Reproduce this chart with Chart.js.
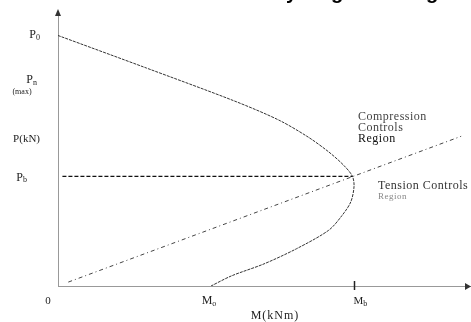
<!DOCTYPE html>
<html>
<head>
<meta charset="utf-8">
<script src="https://cdn.jsdelivr.net/npm/chart.js@4.4.1/dist/chart.umd.min.js"></script>
<style>
  html, body { margin: 0; padding: 0; background: #fff; }
  #wrap { width: 471px; height: 322px; }
</style>
</head>
<body>
<div id="wrap"><canvas id="chart" width="471" height="322"></canvas></div>
<script>
// --- data (M in kNm, P in kN) ---
const axisMaxM = 140;
const axisMaxP = 1400;

// interaction curve, from P0 down through the balanced point to Mo
const curveM = [0, 30, 60, 75, 85, 92, 97, 100, 100.6, 99.5, 96.5, 92, 81, 70, 59, 52];
const curveP = [1280, 1114, 945, 848, 761, 685, 618, 562, 510, 430, 360, 285, 190, 113, 52, 0];

// horizontal dashed line at Pb
const pbLineM = [1.5, 100];
const pbLineP = [560, 560];

// radial line from origin through the balanced point
const radialM = [3.5, 137];
const radialP = [20, 765];

// key values for labels
const P0 = 1280, PnMax = 1024, PaxisTitle = 750, Pb = 560;
const Mo = 52, Mb = 100;

const toPts = (xs, ys) => xs.map((x, i) => ({ x: x, y: ys[i] }));

const SERIF = '"Liberation Serif", "DejaVu Serif", serif';

// text with a subscript
function subText(ctx, main, sub, x, y, size, align) {
  ctx.font = size + 'px ' + SERIF;
  const w1 = ctx.measureText(main).width;
  ctx.font = Math.round(size * 0.7) + 'px ' + SERIF;
  const w2 = ctx.measureText(sub).width;
  let left = x;
  if (align === 'center') left = x - (w1 + w2) / 2;
  if (align === 'right') left = x - (w1 + w2);
  ctx.textAlign = 'left';
  ctx.textBaseline = 'middle';
  ctx.font = size + 'px ' + SERIF;
  ctx.fillText(main, left, y);
  ctx.font = Math.round(size * 0.7) + 'px ' + SERIF;
  ctx.fillText(sub, left + w1, y + size * 0.25);
}

const annotations = {
  id: 'annotations',
  afterDraw(chart) {
    const ctx = chart.ctx;
    const xs = chart.scales.x, ys = chart.scales.y;
    const ca = chart.chartArea;
    ctx.save();

    // axis arrows
    ctx.fillStyle = '#333';
    ctx.beginPath();
    ctx.moveTo(ca.left - 3, ca.top + 4);
    ctx.lineTo(ca.left, ca.top - 3);
    ctx.lineTo(ca.left + 3, ca.top + 4);
    ctx.closePath();
    ctx.fill();
    ctx.beginPath();
    ctx.moveTo(ca.right - 5, ca.bottom - 3);
    ctx.lineTo(ca.right + 1, ca.bottom + 0.5);
    ctx.lineTo(ca.right - 5, ca.bottom + 4);
    ctx.closePath();
    ctx.fill();

    // tick at Mb
    const xb = Math.round(xs.getPixelForValue(Mb)) + 2.5;
    ctx.strokeStyle = '#222';
    ctx.lineWidth = 1.5;
    ctx.beginPath();
    ctx.moveTo(xb, ca.bottom - 5);
    ctx.lineTo(xb, ca.bottom + 4);
    ctx.stroke();

    // y labels
    ctx.fillStyle = '#222';
    subText(ctx, 'P', '0', 40, ys.getPixelForValue(P0) - 1, 12, 'right');
    subText(ctx, 'P', 'n', 37, ys.getPixelForValue(PnMax) - 6, 12, 'right');
    ctx.font = '8px ' + SERIF;
    ctx.textAlign = 'center';
    ctx.fillText('(max)', 22, ys.getPixelForValue(PnMax) + 6);
    ctx.font = '11px ' + SERIF;
    ctx.textAlign = 'right';
    ctx.textBaseline = 'middle';
    ctx.fillText('P(kN)', 40, ys.getPixelForValue(PaxisTitle));
    subText(ctx, 'P', 'b', 27, ys.getPixelForValue(Pb) + 1, 12, 'right');

    // x labels
    const labY = ca.bottom + 15;
    ctx.font = '11px ' + SERIF;
    ctx.textAlign = 'center';
    ctx.fillText('0', ca.left - 10, labY);
    subText(ctx, 'M', 'o', xs.getPixelForValue(Mo) - 2, labY, 12, 'center');
    subText(ctx, 'M', 'b', xs.getPixelForValue(Mb) + 8, labY, 11, 'center');
    ctx.font = '12px ' + SERIF;
    ctx.letterSpacing = '1px';
    ctx.textAlign = 'center';
    ctx.fillText('M(kNm)', 275, ca.bottom + 30);

    // region notes
    ctx.textAlign = 'left';
    ctx.letterSpacing = '0.5px';
    ctx.font = '12px ' + SERIF;
    ctx.fillStyle = '#444';
    ctx.fillText('Compression', 358, 117);
    ctx.fillText('Controls', 358, 128);
    ctx.fillStyle = '#111';
    ctx.fillText('Region', 358, 139);
    ctx.fillStyle = '#333';
    ctx.fillText('Tension Controls', 378, 186);
    ctx.fillStyle = '#888';
    ctx.font = '9px ' + SERIF;
    ctx.fillText('Region', 378, 197);
    ctx.letterSpacing = '0px';

    // cut-off caption descenders along the top edge
    ctx.fillStyle = '#000';
    ctx.font = 'bold 20px "Liberation Sans", sans-serif';
    ctx.textBaseline = 'alphabetic';
    ctx.fillText('y', 286, -1);
    ctx.fillText('g', 331, -1);
    ctx.fillText('g', 426, -1);

    ctx.restore();
  }
};

new Chart(document.getElementById('chart'), {
  type: 'scatter',
  data: {
    datasets: [
      {
        data: toPts(curveM, curveP),
        showLine: true,
        borderColor: '#333',
        borderWidth: 1,
        borderDash: [3, 1],
        tension: 0.3,
        pointRadius: 0
      },
      {
        data: toPts(pbLineM, pbLineP),
        showLine: true,
        borderColor: '#111',
        borderWidth: 1.2,
        borderDash: [4, 2],
        pointRadius: 0
      },
      {
        data: toPts(radialM, radialP),
        showLine: true,
        borderColor: '#444',
        borderWidth: 1,
        borderDash: [4, 3, 1, 3],
        pointRadius: 0
      }
    ]
  },
  options: {
    responsive: false,
    animation: false,
    layout: { padding: { left: 58, top: 12, right: 1, bottom: 36 } },
    plugins: { legend: { display: false }, tooltip: { enabled: false } },
    scales: {
      x: {
        type: 'linear', min: 0, max: axisMaxM,
        grid: { display: false, drawTicks: false },
        border: { display: true, color: '#999', width: 1 },
        ticks: { display: false }
      },
      y: {
        type: 'linear', min: 0, max: axisMaxP,
        grid: { display: false, drawTicks: false },
        border: { display: true, color: '#999', width: 1 },
        ticks: { display: false }
      }
    }
  },
  plugins: [annotations]
});
</script>
</body>
</html>
